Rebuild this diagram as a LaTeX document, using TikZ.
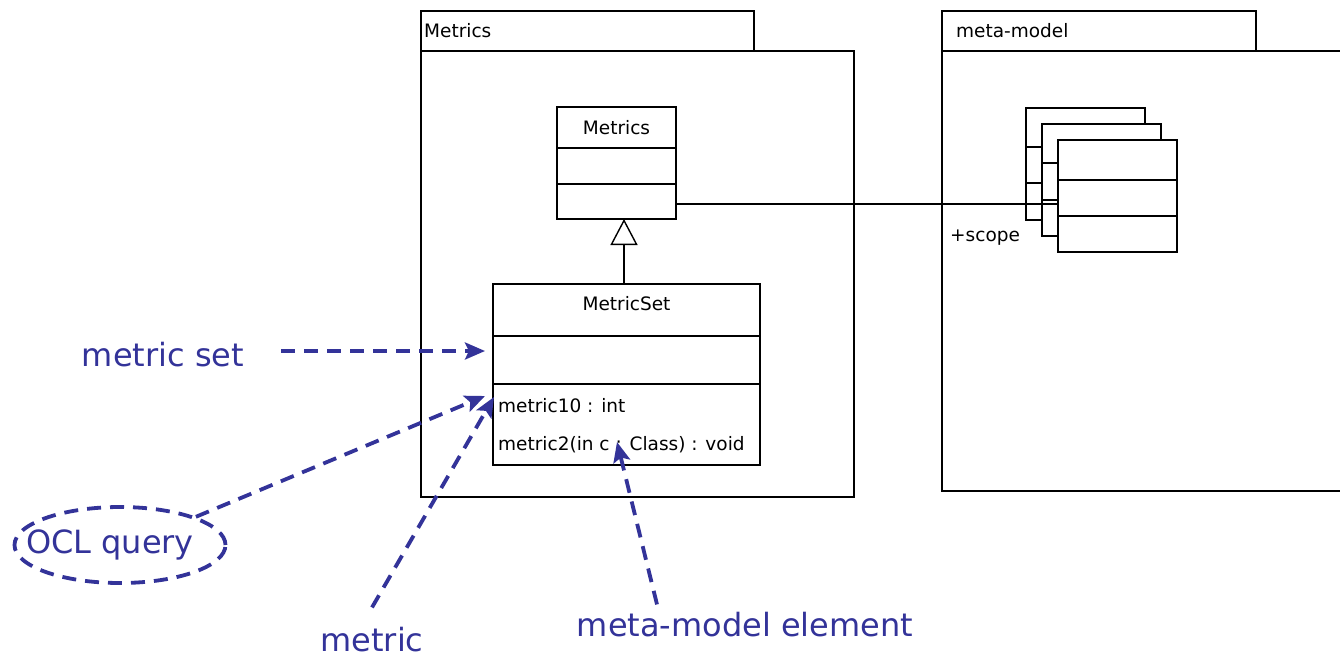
\documentclass[tikz,border=0pt]{standalone}
\usepackage{fontspec}
\setmainfont{DejaVu Sans}
\usetikzlibrary{arrows.meta,shapes.geometric,calc}
\definecolor{annblue}{RGB}{51,51,153}
\begin{document}
\begin{tikzpicture}[x=1pt,y=-1pt,
  box/.style={draw,line width=1.4pt,inner sep=0pt,outer sep=0pt,anchor=north west},
  umlline/.style={line width=1.4pt},
  umltext/.style={font=\fontsize{18.5}{21}\selectfont,inner sep=0pt},
  anntext/.style={text=annblue,font=\fontsize{32}{36}\selectfont,inner sep=0pt},
  anndash/.style={draw=annblue,line width=3.8pt,dash pattern=on 14pt off 9pt},
  annarrow/.style={anndash,-{Stealth[length=20pt,width=17pt,inset=4pt]}},
  ]
\useasboundingbox (0,0) rectangle (1340,659);
% package Metrics
\node[box,minimum width=333pt,minimum height=40pt] (mtab) at (421,11) {};
\node[umltext,anchor=west] (mtabtext) at (424,31) {Metrics};
\node[box,minimum width=433pt,minimum height=446pt] (mbody) at (421,51) {};
% package meta-model
\node[box,minimum width=314pt,minimum height=40pt] (mmtab) at (942,11) {};
\node[umltext,anchor=west] (mmtabtext) at (956,31) {meta-model};
\draw[umlline] (1340,51) -- (942,51) -- (942,491) -- (1340,491);
% class Metrics
\node[box,minimum width=119pt,minimum height=112pt] (metrics) at (557,107) {};
\draw[umlline] (557,148) -- (676,148) (557,184) -- (676,184);
\node[umltext] (metricsname) at (616.5,128) {Metrics};
% class MetricSet
\node[box,minimum width=267pt,minimum height=181pt] (mset) at (493,284) {};
\draw[umlline] (493,336) -- (760,336) (493,384) -- (760,384);
\node[umltext] (msetname) at (626.5,304) {MetricSet};
\node[umltext,anchor=west] (attr1) at (498,406) {metric10 : int};
\node[umltext,anchor=west] (attr2) at (498,445) {metric2(in c : Class) : void};
% generalization
\draw[umlline,-{Triangle[open,length=26pt,width=27pt]}] ([xshift=-2.5pt]mset.north) -- ([xshift=7.5pt]metrics.south);
% stacked classes
\node[box,fill=white,minimum width=119pt,minimum height=112pt] (c1) at (1026,108) {};
\draw[umlline] (1026,147) -- (1145,147) (1026,183) -- (1145,183);
\node[box,fill=white,minimum width=119pt,minimum height=112pt] (c2) at (1042,124) {};
\draw[umlline] (1042,163) -- (1161,163) (1042,200) -- (1161,200);
% association
\draw[umlline] ([yshift=15pt]metrics.south east) -- (1058,204);
\node[box,fill=white,minimum width=119pt,minimum height=112pt] (c3) at (1058,140) {};
\draw[umlline] (1058,180) -- (1177,180) (1058,216) -- (1177,216);
\node[umltext,anchor=west] (scope) at (950,238) {+scope};
% annotations
\node[anntext] (lset) at (163,355) {metric set};
\coordinate (tset) at (485,351);
\draw[annarrow] ([xshift=37pt,yshift=4pt]lset.east) -- (tset);
\node[ellipse,anndash,minimum width=211pt,minimum height=76pt,inner sep=0pt] (ocl) at (120,545) {};
\node[anntext] (ocltext) at (110,545) {OCL query};
\coordinate (tocl) at (485,396);
\draw[annarrow] (ocl.north east) -- (tocl);
\node[anntext] (lmetric) at (372,640) {metric};
\coordinate (tmetric) at (494,397);
\draw[annarrow] ([yshift=20pt]lmetric.north) -- (tmetric);
\node[anntext] (lmm) at (745,625) {meta-model element};
\coordinate (tmm) at (617,442);
\draw[annarrow] ([xshift=-88pt,yshift=8pt]lmm.north) -- (tmm);
\end{tikzpicture}
\end{document}
